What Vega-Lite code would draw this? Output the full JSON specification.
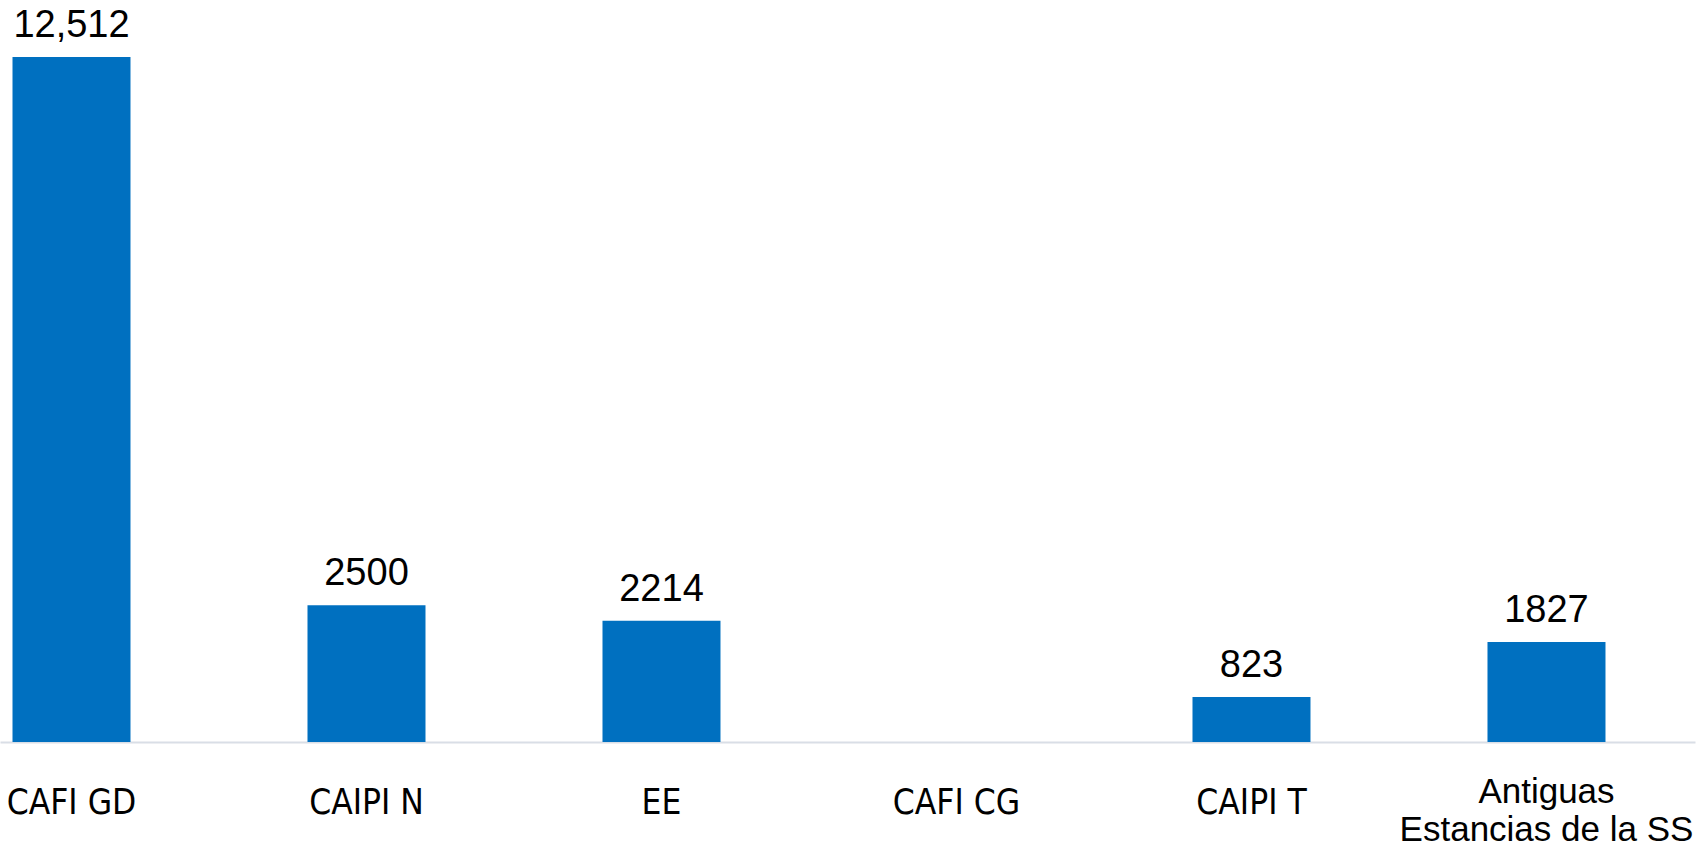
{
  "$schema": "https://vega.github.io/schema/vega-lite/v6.json",
  "width": 1695,
  "height": 742,
  "padding": {"left": 0, "top": 0, "right": 13, "bottom": 102},
  "autosize": {"type": "none"},
  "background": "white",
  "config": {"view": {"stroke": null}},
  "data": {
    "values": [
      {"cat": "CAFI GD", "value": 12512, "label": "12,512"},
      {"cat": "CAIPI N", "value": 2500, "label": "2500"},
      {"cat": "EE", "value": 2214, "label": "2214"},
      {"cat": "CAFI CG", "value": 0, "label": ""},
      {"cat": "CAIPI T", "value": 823, "label": "823"},
      {"cat": "Antiguas Estancias de la SS", "value": 1827, "label": "1827"}
    ]
  },
  "encoding": {
    "x": {
      "field": "cat",
      "type": "nominal",
      "sort": null,
      "scale": {"paddingInner": 0.6, "paddingOuter": 0.1729, "align": 0.1225},
      "axis": {
        "title": null,
        "domainColor": "#D9DEE6",
        "domainWidth": 2,
        "ticks": false,
        "labelAngle": 0,
        "labelPadding": 60,
        "labelBaseline": {"condition": {"test": "datum.value == 'Antiguas Estancias de la SS'", "value": "alphabetic"}, "value": "middle"},
        "labelColor": "#000000",
        "labelFont": {"condition": {"test": "datum.value == 'Antiguas Estancias de la SS'", "value": "Liberation Sans"}, "value": "DejaVu Sans Condensed, Liberation Sans, sans-serif"},
        "labelFontSize": {"condition": {"test": "datum.value == 'Antiguas Estancias de la SS'", "value": 35}, "value": 35},
        "labelLineHeight": 38,
        "labelExpr": "datum.value == 'Antiguas Estancias de la SS' ? ['Antiguas', 'Estancias de la SS'] : datum.value",
        "labelLimit": 0,
        "labelOverlap": false
      }
    },
    "y": {
      "field": "value",
      "type": "quantitative",
      "scale": {"domain": [0, 13553], "nice": false},
      "axis": null
    }
  },
  "layer": [
    {"mark": {"type": "bar", "color": "#0070C0"}},
    {
      "mark": {"type": "text", "baseline": "alphabetic", "dy": -20, "font": "Liberation Sans", "fontSize": 38, "color": "#000000"},
      "encoding": {"text": {"field": "label"}}
    }
  ]
}
